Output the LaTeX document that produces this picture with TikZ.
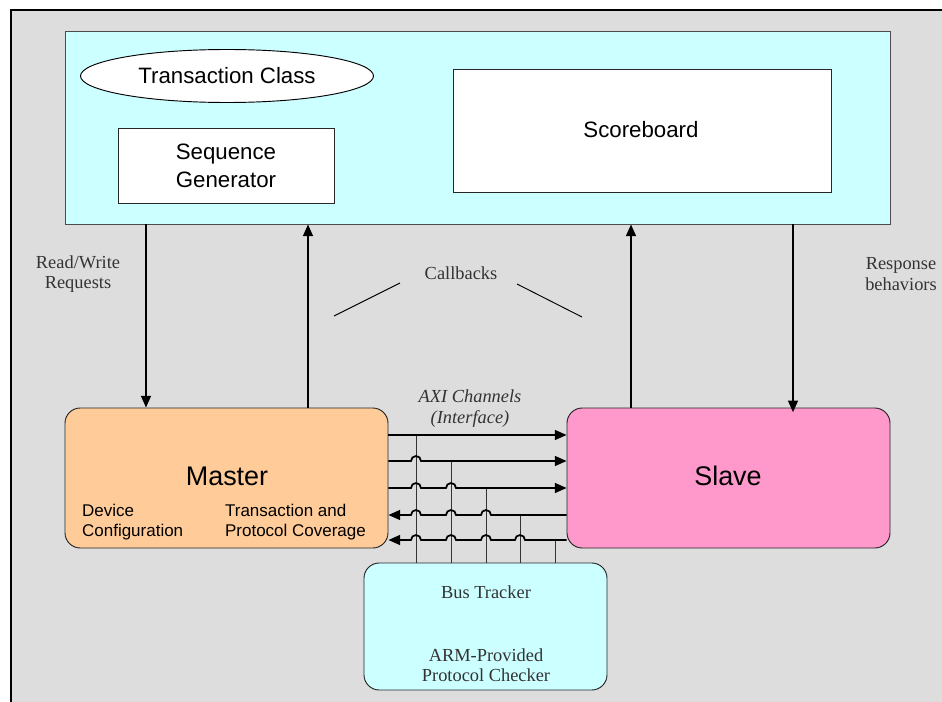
\documentclass[tikz,border=0pt]{standalone}
\usepackage{fontspec}
\setmainfont{Liberation Sans}
\newfontfamily\timesfont{Liberation Serif}
\usetikzlibrary{arrows.meta,fit,shapes.geometric}
\definecolor{bggray}{HTML}{DDDDDD}
\definecolor{envcyan}{HTML}{CCFFFF}
\definecolor{mstorange}{HTML}{FFCC99}
\definecolor{slvpink}{HTML}{FF99CC}
\definecolor{lblgray}{HTML}{333333}
\tikzset{
  blk/.style={draw=black!85, line width=0.8pt, inner sep=0pt},
  rblk/.style={blk, rounded corners=13pt},
  arr/.style={line width=1.5pt, -{Triangle[length=10pt,width=8.5pt]}},
  tap/.style={line width=0.8pt, black!80},
  lbl/.style={font=\timesfont\fontsize{15.7}{17.5}\selectfont, text=lblgray, align=center},
  big/.style={font=\fontsize{19}{24}\selectfont, align=center},
  huge/.style={font=\fontsize{23}{26}\selectfont},
  small/.style={font=\fontsize{14.5}{17}\selectfont, align=left, anchor=west},
}
\begin{document}
\begin{tikzpicture}[x=0.03cm,y=-0.03cm]
\useasboundingbox (0,0) rectangle (942,702);
\fill[white] (0,0) rectangle (942,702);
%background
\fill[bggray] (11,10) rectangle (942,702);
\draw[line width=0.9pt] (11,702) -- (11,10) -- (942,10);
%environment
\node[blk, draw=black!70, fill=envcyan, fit={(65,31) (890,224)}] (env) {};
\node[draw, line width=0.8pt, fill=white, ellipse, minimum width=8.79cm, minimum height=1.59cm, big] (tclass) at (227,76) {Transaction Class};
\node[blk, fill=white, fit={(118,128) (334,203)}] (seqgen) {};
\node[big] (seqtxt) at (226,166) {Sequence\\Generator};
\node[blk, fill=white, fit={(453,69) (831,192)}] (score) {};
\node[big] (scoretxt) at (641,130) {Scoreboard};
%agents
\node[rblk, fill=mstorange, fit={(65,408) (388,548)}] (master) {};
\node[huge] (mname) at (227,476) {Master};
\node[small] (devcfg) at (78,522) {Device\\Configuration};
\node[small] (txcov) at (221,522) {Transaction and\\Protocol Coverage};
\node[rblk, fill=slvpink, fit={(567,408) (890,548)}] (slave) {};
\node[huge] (sname) at (728,476) {Slave};
%checker
\node[rblk, fill=envcyan, fit={(364,563) (607,690)}] (bus) {};
\node[lbl] (bustr) at (486,592) {Bus Tracker};
\node[lbl] (armchk) at (486,665) {ARM-Provided\\Protocol Checker};
%requests and callbacks
\coordinate (rw) at (146,0);
\coordinate (cbm) at (308,0);
\coordinate (cbs) at (631,0);
\coordinate (rsp) at (793,0);
\draw[arr] (env.south -| rw) -- (master.north -| rw);
\draw[arr] (master.north -| cbm) -- (env.south -| cbm);
\draw[arr] (slave.north -| cbs) -- (env.south -| cbs);
\draw[arr] (env.south -| rsp) -- ([yshift=-4pt]slave.north -| rsp);
\node[lbl] (rwlbl) at (78,274) {Read/Write\\Requests};
\node[lbl] (rsplbl) at (901,274) {Response\\behaviors};
\node[lbl] (cblbl) at (461,273) {Callbacks};
\draw[line width=0.8pt] (334,316) -- (400,283);
\draw[line width=0.8pt] (517,284) -- (582,317);
%channels
\node[lbl, font=\timesfont\itshape\fontsize{15.7}{18}\selectfont] (axi) at (470,409) {AXI Channels\\(Interface)};
\foreach \x/\y [count=\i] in {416/435,451/461,486/488,520/515,555/540} {
  \coordinate (tap\i) at (\x,\y);
  \draw[tap] (tap\i) -- (tap\i |- bus.north);
}
\draw[arr] (master.east |- tap1) -- (slave.west |- tap1);
\draw[arr] (master.east |- tap2) -- (411,461) arc (180:0:0.15cm) -- (slave.west |- tap2);
\draw[arr] (master.east |- tap3) -- (411,488) arc (180:0:0.15cm) -- (446,488) arc (180:0:0.15cm) -- (slave.west |- tap3);
\draw[arr] (slave.west |- tap4) -- (491,515) arc (0:180:0.15cm) -- (456,515) arc (0:180:0.15cm) -- (421,515) arc (0:180:0.15cm) -- (master.east |- tap4);
\draw[arr] (slave.west |- tap5) -- (525,540) arc (0:180:0.15cm) -- (491,540) arc (0:180:0.15cm) -- (456,540) arc (0:180:0.15cm) -- (421,540) arc (0:180:0.15cm) -- (master.east |- tap5);
\end{tikzpicture}
\end{document}
